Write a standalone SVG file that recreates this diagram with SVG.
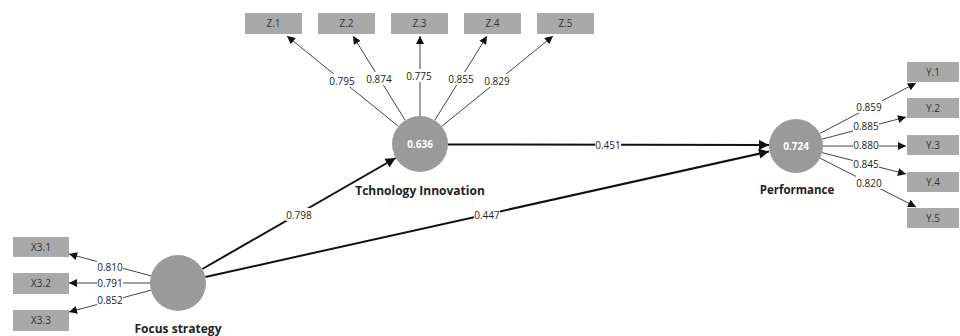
<svg xmlns="http://www.w3.org/2000/svg" width="960" height="336" viewBox="0 0 960 336">
<style>
text{font-family:"Open Sans","Noto Sans","Liberation Sans",sans-serif}
.box{fill:#a9a9a9}
.bt{font-size:10px;fill:#333;text-anchor:middle}
.lv{fill:#9a9a9a}
.lvt{font-size:10px;fill:#fff;font-weight:bold;text-anchor:middle}
.name{font-size:12px;fill:#222;font-weight:bold;text-anchor:middle}
.ind{stroke:#444;stroke-width:1;fill:none}
.path{stroke:#111;stroke-width:2;fill:none}
.lab{font-size:10px;fill:#222;text-anchor:middle}
.lbg{fill:#fff}
</style>
<defs>
<marker id="as" viewBox="0 0 10 10" refX="10" refY="5" markerWidth="10" markerHeight="8" markerUnits="userSpaceOnUse" orient="auto"><path d="M0,0L10,5L0,10z" fill="#111"/></marker>
<marker id="al" viewBox="0 0 10 10" refX="10" refY="5" markerWidth="13" markerHeight="10" markerUnits="userSpaceOnUse" orient="auto"><path d="M0,0L10,5L0,10z" fill="#111"/></marker>
</defs>
<g id="connectors">
<line class="ind" x1="398" y1="126" x2="287" y2="36" marker-end="url(#as)"/>
<line class="ind" x1="405.2" y1="120.2" x2="353" y2="36" marker-end="url(#as)"/>
<line class="ind" x1="420" y1="116" x2="420" y2="36" marker-end="url(#as)"/>
<line class="ind" x1="434.8" y1="120.2" x2="487" y2="36" marker-end="url(#as)"/>
<line class="ind" x1="441.8" y1="126.3" x2="553" y2="36" marker-end="url(#as)"/>
<line class="ind" x1="820" y1="133.4" x2="916" y2="83" marker-end="url(#as)"/>
<line class="ind" x1="822.1" y1="139.1" x2="906" y2="117" marker-end="url(#as)"/>
<line class="ind" x1="823" y1="146" x2="906" y2="146" marker-end="url(#as)"/>
<line class="ind" x1="822.2" y1="152.7" x2="906" y2="174" marker-end="url(#as)"/>
<line class="ind" x1="820.1" y1="158.2" x2="916" y2="207" marker-end="url(#as)"/>
<line class="ind" x1="151" y1="275.8" x2="69" y2="254" marker-end="url(#as)"/>
<line class="ind" x1="150" y1="283" x2="69" y2="283" marker-end="url(#as)"/>
<line class="ind" x1="151" y1="290.2" x2="69" y2="312" marker-end="url(#as)"/>
<line class="path" x1="202.3" y1="269" x2="395.7" y2="158" marker-end="url(#al)"/>
<line class="path" x1="205.3" y1="277" x2="769" y2="151.5" marker-end="url(#al)"/>
<line class="path" x1="448" y1="144.5" x2="769" y2="145" marker-end="url(#al)"/>
<rect class="lbg" x="329" y="74" width="26" height="13"/><text class="lab" x="342" y="84.5">0.795</text>
<rect class="lbg" x="366" y="72" width="26" height="13"/><text class="lab" x="379" y="82.5">0.874</text>
<rect class="lbg" x="406" y="69" width="26" height="13"/><text class="lab" x="419" y="79.5">0.775</text>
<rect class="lbg" x="448" y="72" width="26" height="13"/><text class="lab" x="461" y="82.5">0.855</text>
<rect class="lbg" x="484" y="74" width="26" height="13"/><text class="lab" x="497" y="84.5">0.829</text>
<rect class="lbg" x="856" y="100" width="26" height="13"/><text class="lab" x="869" y="110.5">0.859</text>
<rect class="lbg" x="853" y="120" width="26" height="12"/><text class="lab" x="866" y="130">0.885</text>
<rect class="lbg" x="853" y="139" width="26" height="12"/><text class="lab" x="866" y="149">0.880</text>
<rect class="lbg" x="853" y="158" width="26" height="12"/><text class="lab" x="866" y="168">0.845</text>
<rect class="lbg" x="856" y="176" width="26" height="13"/><text class="lab" x="869" y="186.5">0.820</text>
<rect class="lbg" x="97" y="260" width="26" height="13"/><text class="lab" x="110" y="270.5">0.810</text>
<rect class="lbg" x="97" y="277" width="26" height="12"/><text class="lab" x="110" y="286.5">0.791</text>
<rect class="lbg" x="97" y="293" width="26" height="13"/><text class="lab" x="110" y="303.5">0.852</text>
<rect class="lbg" x="286" y="208" width="26" height="13"/><text class="lab" x="299" y="218.5">0.798</text>
<rect class="lbg" x="474" y="208" width="26" height="13"/><text class="lab" x="487" y="218.5">0.447</text>
<rect class="lbg" x="595" y="138" width="26" height="13"/><text class="lab" x="608" y="148.5">0.451</text>
</g>
<g id="Z1"><rect class="box" x="245" y="13" width="57" height="21"/><text class="bt" x="273.5" y="27">Z.1</text></g>
<g id="Z2"><rect class="box" x="318" y="13" width="57" height="21"/><text class="bt" x="346.5" y="27">Z.2</text></g>
<g id="Z3"><rect class="box" x="391" y="13" width="57" height="21"/><text class="bt" x="419.5" y="27">Z.3</text></g>
<g id="Z4"><rect class="box" x="464" y="13" width="57" height="21"/><text class="bt" x="492.5" y="27">Z.4</text></g>
<g id="Z5"><rect class="box" x="537" y="13" width="57" height="21"/><text class="bt" x="565.5" y="27">Z.5</text></g>
<g id="Y1"><rect class="box" x="907" y="62" width="52" height="20"/><text class="bt" x="933" y="75.5">Y.1</text></g>
<g id="Y2"><rect class="box" x="907" y="98" width="52" height="20"/><text class="bt" x="933" y="111.5">Y.2</text></g>
<g id="Y3"><rect class="box" x="907" y="135" width="52" height="20"/><text class="bt" x="933" y="148.5">Y.3</text></g>
<g id="Y4"><rect class="box" x="907" y="172" width="52" height="20"/><text class="bt" x="933" y="185.5">Y.4</text></g>
<g id="Y5"><rect class="box" x="907" y="208" width="52" height="20"/><text class="bt" x="933" y="221.5">Y.5</text></g>
<g id="X31"><rect class="box" x="13" y="237" width="56" height="20"/><text class="bt" x="41" y="250.5">X3.1</text></g>
<g id="X32"><rect class="box" x="13" y="273" width="56" height="21"/><text class="bt" x="41" y="287">X3.2</text></g>
<g id="X33"><rect class="box" x="13" y="310" width="56" height="21"/><text class="bt" x="41" y="324">X3.3</text></g>
<g id="TechInnovation"><circle class="lv" cx="420" cy="144" r="28"/><text class="lvt" x="420" y="147.5">0.636</text><text class="name" x="420" y="195">Tchnology Innovation</text></g>
<g id="Performance"><circle class="lv" cx="796" cy="146" r="27"/><text class="lvt" x="796" y="149.5">0.724</text><text class="name" x="797" y="194" style="font-size:11.5px">Performance</text></g>
<g id="FocusStrategy"><circle class="lv" cx="178" cy="283" r="28"/><text class="name" x="178" y="333">Focus strategy</text></g>
</svg>
